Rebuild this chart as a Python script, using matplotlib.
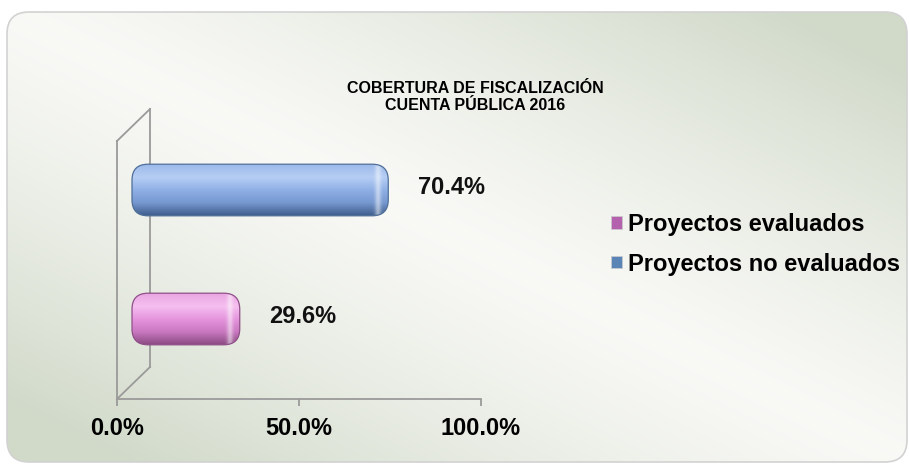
import matplotlib
matplotlib.use('Agg')
import matplotlib.pyplot as plt
import matplotlib.transforms as mtransforms
from matplotlib.patches import FancyBboxPatch, Patch
from matplotlib.colors import LinearSegmentedColormap
import numpy as np

# data
title = 'COBERTURA DE FISCALIZACIÓN\nCUENTA PÚBLICA 2016'
categories = ['Proyectos evaluados', 'Proyectos no evaluados']
values = [29.6, 70.4]
xticks = [0, 50, 100]

# colour stops (bottom -> top) for the cylinder shading
shades = {
    'Proyectos evaluados': ['#8a4a82', '#c978c0', '#e595dd', '#f5bff0', '#eaa5e2'],
    'Proyectos no evaluados': ['#3f5d8c', '#7698d0', '#8fafe5', '#b6cef4', '#9cb9ea'],
}
edges = {'Proyectos evaluados': '#8f5088', 'Proyectos no evaluados': '#4f6f98'}
legend_colors = {'Proyectos evaluados': '#b462ae', 'Proyectos no evaluados': '#5a84b6'}

W, H = 909, 465
plt.rcParams['font.family'] = ['Liberation Sans', 'DejaVu Sans']
fig = plt.figure(figsize=(W / 100, H / 100), dpi=100)
fig.patch.set_facecolor('white')

# background panel with diagonal gradient
bg = fig.add_axes([0, 0, 1, 1])
bg.set_xlim(0, W)
bg.set_ylim(H, 0)
bg.axis('off')
gx, gy = np.meshgrid(np.linspace(0, 1, 300), np.linspace(0, 1, 160))
t = np.clip(np.abs(gx - gy) * 1.15, 0, 1) ** 1.3
c0 = np.array([0.975, 0.975, 0.965])
c1 = np.array([0.82, 0.855, 0.79])
img = c0[None, None, :] * (1 - t[..., None]) + c1[None, None, :] * t[..., None]
panel = FancyBboxPatch((7, 12), 900, 450, boxstyle='round,pad=0,rounding_size=22',
                       facecolor='none', edgecolor='#d2d2d2', lw=1.2)
bg.add_patch(panel)
im = bg.imshow(img, extent=(7, 907, 462, 12), aspect='auto', interpolation='bilinear')
im.set_clip_path(panel)
bg.set_xlim(0, W)
bg.set_ylim(H, 0)

fig.text(475 / W, 1 - 97 / H, title, ha='center', va='center', fontsize=11.5,
         fontweight='bold', linespacing=1.2,
         family=['Liberation Sans Narrow', 'Liberation Sans', 'DejaVu Sans'])

# main plot area
ax = fig.add_axes([117 / W, (H - 399) / H, 364 / W, 258 / H])
ax.set_facecolor('none')
ax.set_xlim(0, 100)
ax.set_ylim(-0.5, 1.5)
frame_col = '#9a9a9a'
for s in ['top', 'right']:
    ax.spines[s].set_visible(False)
for s in ['left', 'bottom']:
    ax.spines[s].set_color(frame_col)
    ax.spines[s].set_linewidth(1.3)
ax.set_xticks(xticks)
ax.set_xticklabels([f'{v:.1f}%' for v in xticks], fontsize=17, fontweight='bold')
ax.tick_params(axis='x', direction='out', length=5, width=1.3, color=frame_col, pad=8)
ax.set_yticks([])

# 3D wall lines
depth = mtransforms.ScaledTranslation(33 / 100, 32 / 100, fig.dpi_scale_trans)
back = ax.transAxes + depth
ax.plot([0, 0], [0, 1], transform=back, color=frame_col, lw=1.3, clip_on=False)
inv = fig.transFigure.inverted()
for yy in (0, 1):
    a = inv.transform(ax.transAxes.transform((0, yy)))
    b = inv.transform(back.transform((0, yy)))
    fig.add_artist(plt.Line2D([a[0], b[0]], [a[1], b[1]], color=frame_col, lw=1.3))

# cylinder bars
bar_off = mtransforms.ScaledTranslation(15 / 100, 15.5 / 100, fig.dpi_scale_trans)
trans = ax.transData + bar_off
bh = 0.40
rx = 4.4
asp = (2 / 258) / (100 / 364)
for i, (cat, v) in enumerate(zip(categories, values)):
    patch = FancyBboxPatch((0, i - bh / 2), v, bh,
                           boxstyle=f'round,pad=0,rounding_size={rx}',
                           mutation_aspect=asp, transform=trans,
                           facecolor='none', edgecolor=edges[cat], lw=0.9, zorder=4)
    ax.add_patch(patch)
    cmap = LinearSegmentedColormap.from_list(cat, shades[cat])
    grad = np.linspace(0, 1, 64)[:, None]
    g = ax.imshow(grad, cmap=cmap, extent=(0, v, i - bh / 2, i + bh / 2),
                  origin='lower', aspect='auto', interpolation='bicubic',
                  transform=trans, zorder=3)
    g.set_clip_path(patch)
    # light rim near the right cap
    hx = np.linspace(0, 1, 40)
    alpha = np.exp(-((hx - 0.55) / 0.14) ** 2) * 0.5
    rim = np.zeros((1, 40, 4))
    rim[..., :3] = 1.0
    rim[0, :, 3] = alpha
    r = ax.imshow(rim, extent=(v - 6, v, i - bh / 2, i + bh / 2), aspect='auto',
                  interpolation='bicubic', transform=trans, zorder=3.5)
    r.set_clip_path(patch)
    ax.annotate(f'{v:.1f}%', xy=(v, i), xytext=(32, 13), textcoords='offset points',
                ha='left', va='center', fontsize=17, fontweight='bold', color='#111111')

ax.set_xlim(0, 100)
ax.set_ylim(-0.5, 1.5)

handles = [Patch(facecolor=legend_colors[c], edgecolor='#cccccc', linewidth=0.5) for c in categories]
fig.legend(handles, categories, loc='upper left', bbox_to_anchor=(611 / W, 1 - 213 / H),
           frameon=False, prop={'weight': 'bold', 'size': 17},
           handlelength=0.45, handleheight=0.45, handletextpad=0.25,
           labelspacing=0.7, borderpad=0, borderaxespad=0)

fig.savefig('out.png', dpi=100)
